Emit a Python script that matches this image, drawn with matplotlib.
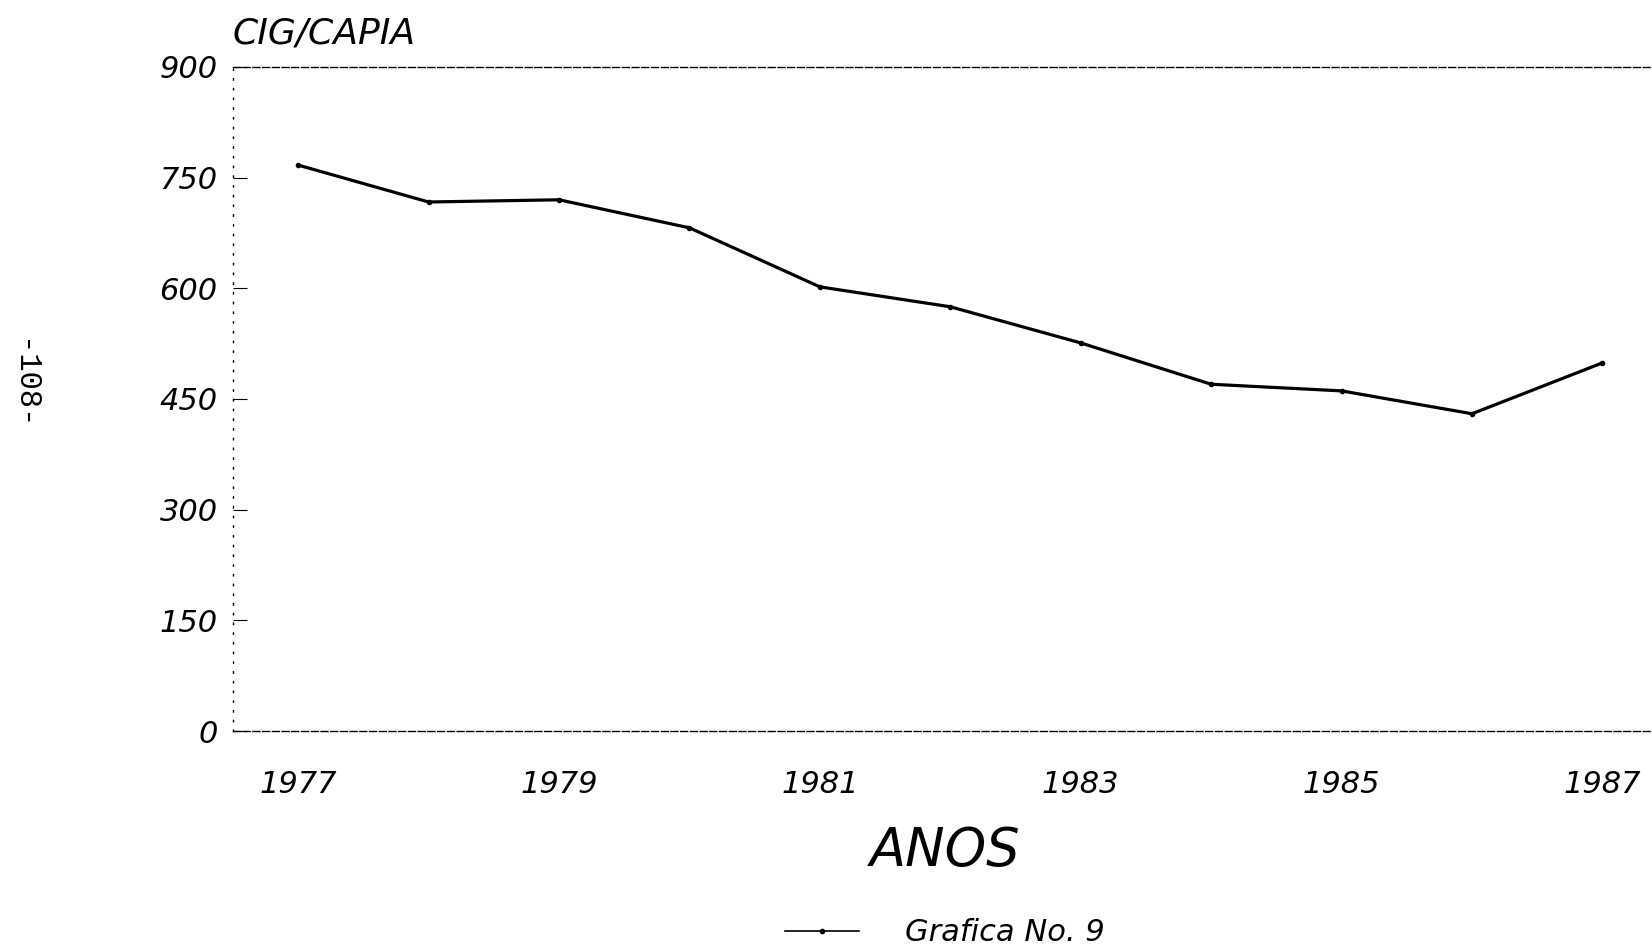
import matplotlib.pyplot as plt

# valores
anos = [1977, 1978, 1979, 1980, 1981, 1982, 1983, 1984, 1985, 1986, 1987]
cig_capia = [767, 717, 720, 682, 602, 575, 526, 470, 461, 430, 499]

y_ticks = [0, 150, 300, 450, 600, 750, 900]
x_ticks = [1977, 1979, 1981, 1983, 1985, 1987]

FONT = ['DejaVu Sans']

fig = plt.figure(figsize=(16.52, 9.5), dpi=100)
ax = fig.add_axes([0.141, 0.2305, 0.859, 0.699])

ax.plot(anos, cig_capia, color='black', lw=2.3, marker='o', ms=3,
        label='Grafica No. 9')

ax.set_xlim(1976.5, 1987.38)
ax.set_ylim(0, 900)
ax.set_yticks(y_ticks)
ax.set_xticks(x_ticks)
ax.set_yticklabels([str(v) for v in y_ticks], fontsize=22, style='italic',
                   family=FONT)
ax.set_xticklabels([str(v) for v in x_ticks], fontsize=22, style='italic',
                   family=FONT)
ax.tick_params(axis='y', direction='in', length=10, width=0.8, pad=11)
ax.tick_params(axis='x', length=0, pad=28)

# eixos pontilhados/tracejados como no original
ax.spines['right'].set_visible(False)
ax.spines['left'].set_linestyle((0, (1, 6)))
ax.spines['left'].set_linewidth(1.0)
ax.spines['top'].set_linestyle((0, (5, 2)))
ax.spines['top'].set_linewidth(1.0)
ax.spines['bottom'].set_linestyle((0, (5, 2)))
ax.spines['bottom'].set_linewidth(1.0)

fig.text(0.141, 0.965, 'CIG/CAPIA', fontsize=26, style='italic',
         family=FONT, ha='left', va='center')
fig.text(0.572, 0.104, 'ANOS', fontsize=38, style='italic',
         family=FONT, ha='center', va='center')
fig.text(0.014, 0.595, '-108-', fontsize=22, family='Liberation Mono',
         rotation=270, ha='center', va='center')

leg = fig.legend(loc='center', bbox_to_anchor=(0.572, 0.018), frameon=False,
                 handlelength=2.4, handletextpad=1.5,
                 prop={'family': FONT, 'style': 'italic', 'size': 22})
for h in leg.legend_handles:
    h.set_linewidth(1.2)

fig.savefig('out.png', dpi=100)
